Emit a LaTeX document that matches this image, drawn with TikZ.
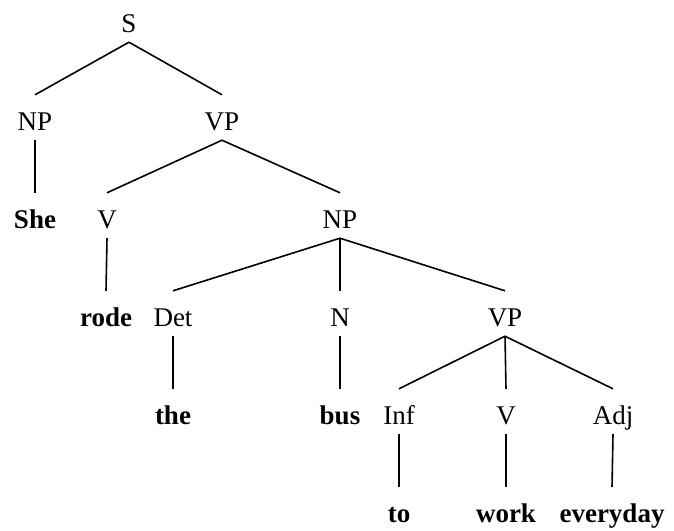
\documentclass[tikz,border=0pt]{standalone}
\usepackage{fontspec}
\setmainfont{Liberation Serif}
\begin{document}
\begin{tikzpicture}[x=1pt,y=-1pt,
  every node/.style={inner xsep=0pt, inner ysep=3pt, text height=32pt, text depth=7pt, anchor=base, font=\fontsize{27}{27}\selectfont},
  cat/.style={},
  word/.style={font=\fontsize{27}{27}\selectfont\bfseries},
  edge/.style={line width=1.6pt}]
\useasboundingbox (0,0) rectangle (674,530);
% row 1
\node[cat] (s) at (129,32) {S};
% row 2
\node[cat] (np1) at (35,130) {NP};
\node[cat] (vp1) at (222,130) {VP};
% row 3
\node[word] (she) at (35,228) {She};
\node[cat] (v1) at (107,228) {V};
\node[cat] (np2) at (340,228) {NP};
% row 4
\node[word] (rode) at (106,326) {rode};
\node[cat] (det) at (173,326) {Det};
\node[cat] (n) at (340,326) {N};
\node[cat] (vp2) at (505,326) {VP};
% row 5
\node[word] (the) at (173,424) {the};
\node[word] (bus) at (340,424) {bus};
\node[cat] (inf) at (399,424) {Inf};
\node[cat] (v2) at (506,424) {V};
\node[cat] (adj) at (613,424) {Adj};
% row 6
\node[word] (to) at (399,522) {to};
\node[word] (work) at (506,522) {work};
\node[word] (everyday) at (612,522) {everyday};
% edges
\draw[edge] (s.south) -- (np1.north);
\draw[edge] (s.south) -- (vp1.north);
\draw[edge] (np1.south) -- (she.north);
\draw[edge] (vp1.south) -- (v1.north);
\draw[edge] (vp1.south) -- (np2.north);
\draw[edge] (v1.south) -- (rode.north);
\draw[edge] (np2.south) -- (det.north);
\draw[edge] (np2.south) -- (n.north);
\draw[edge] (np2.south) -- (vp2.north);
\draw[edge] (det.south) -- (the.north);
\draw[edge] (n.south) -- (bus.north);
\draw[edge] (vp2.south) -- (inf.north);
\draw[edge] (vp2.south) -- (v2.north);
\draw[edge] (vp2.south) -- (adj.north);
\draw[edge] (inf.south) -- (to.north);
\draw[edge] (v2.south) -- (work.north);
\draw[edge] (adj.south) -- (everyday.north);
\end{tikzpicture}
\end{document}
